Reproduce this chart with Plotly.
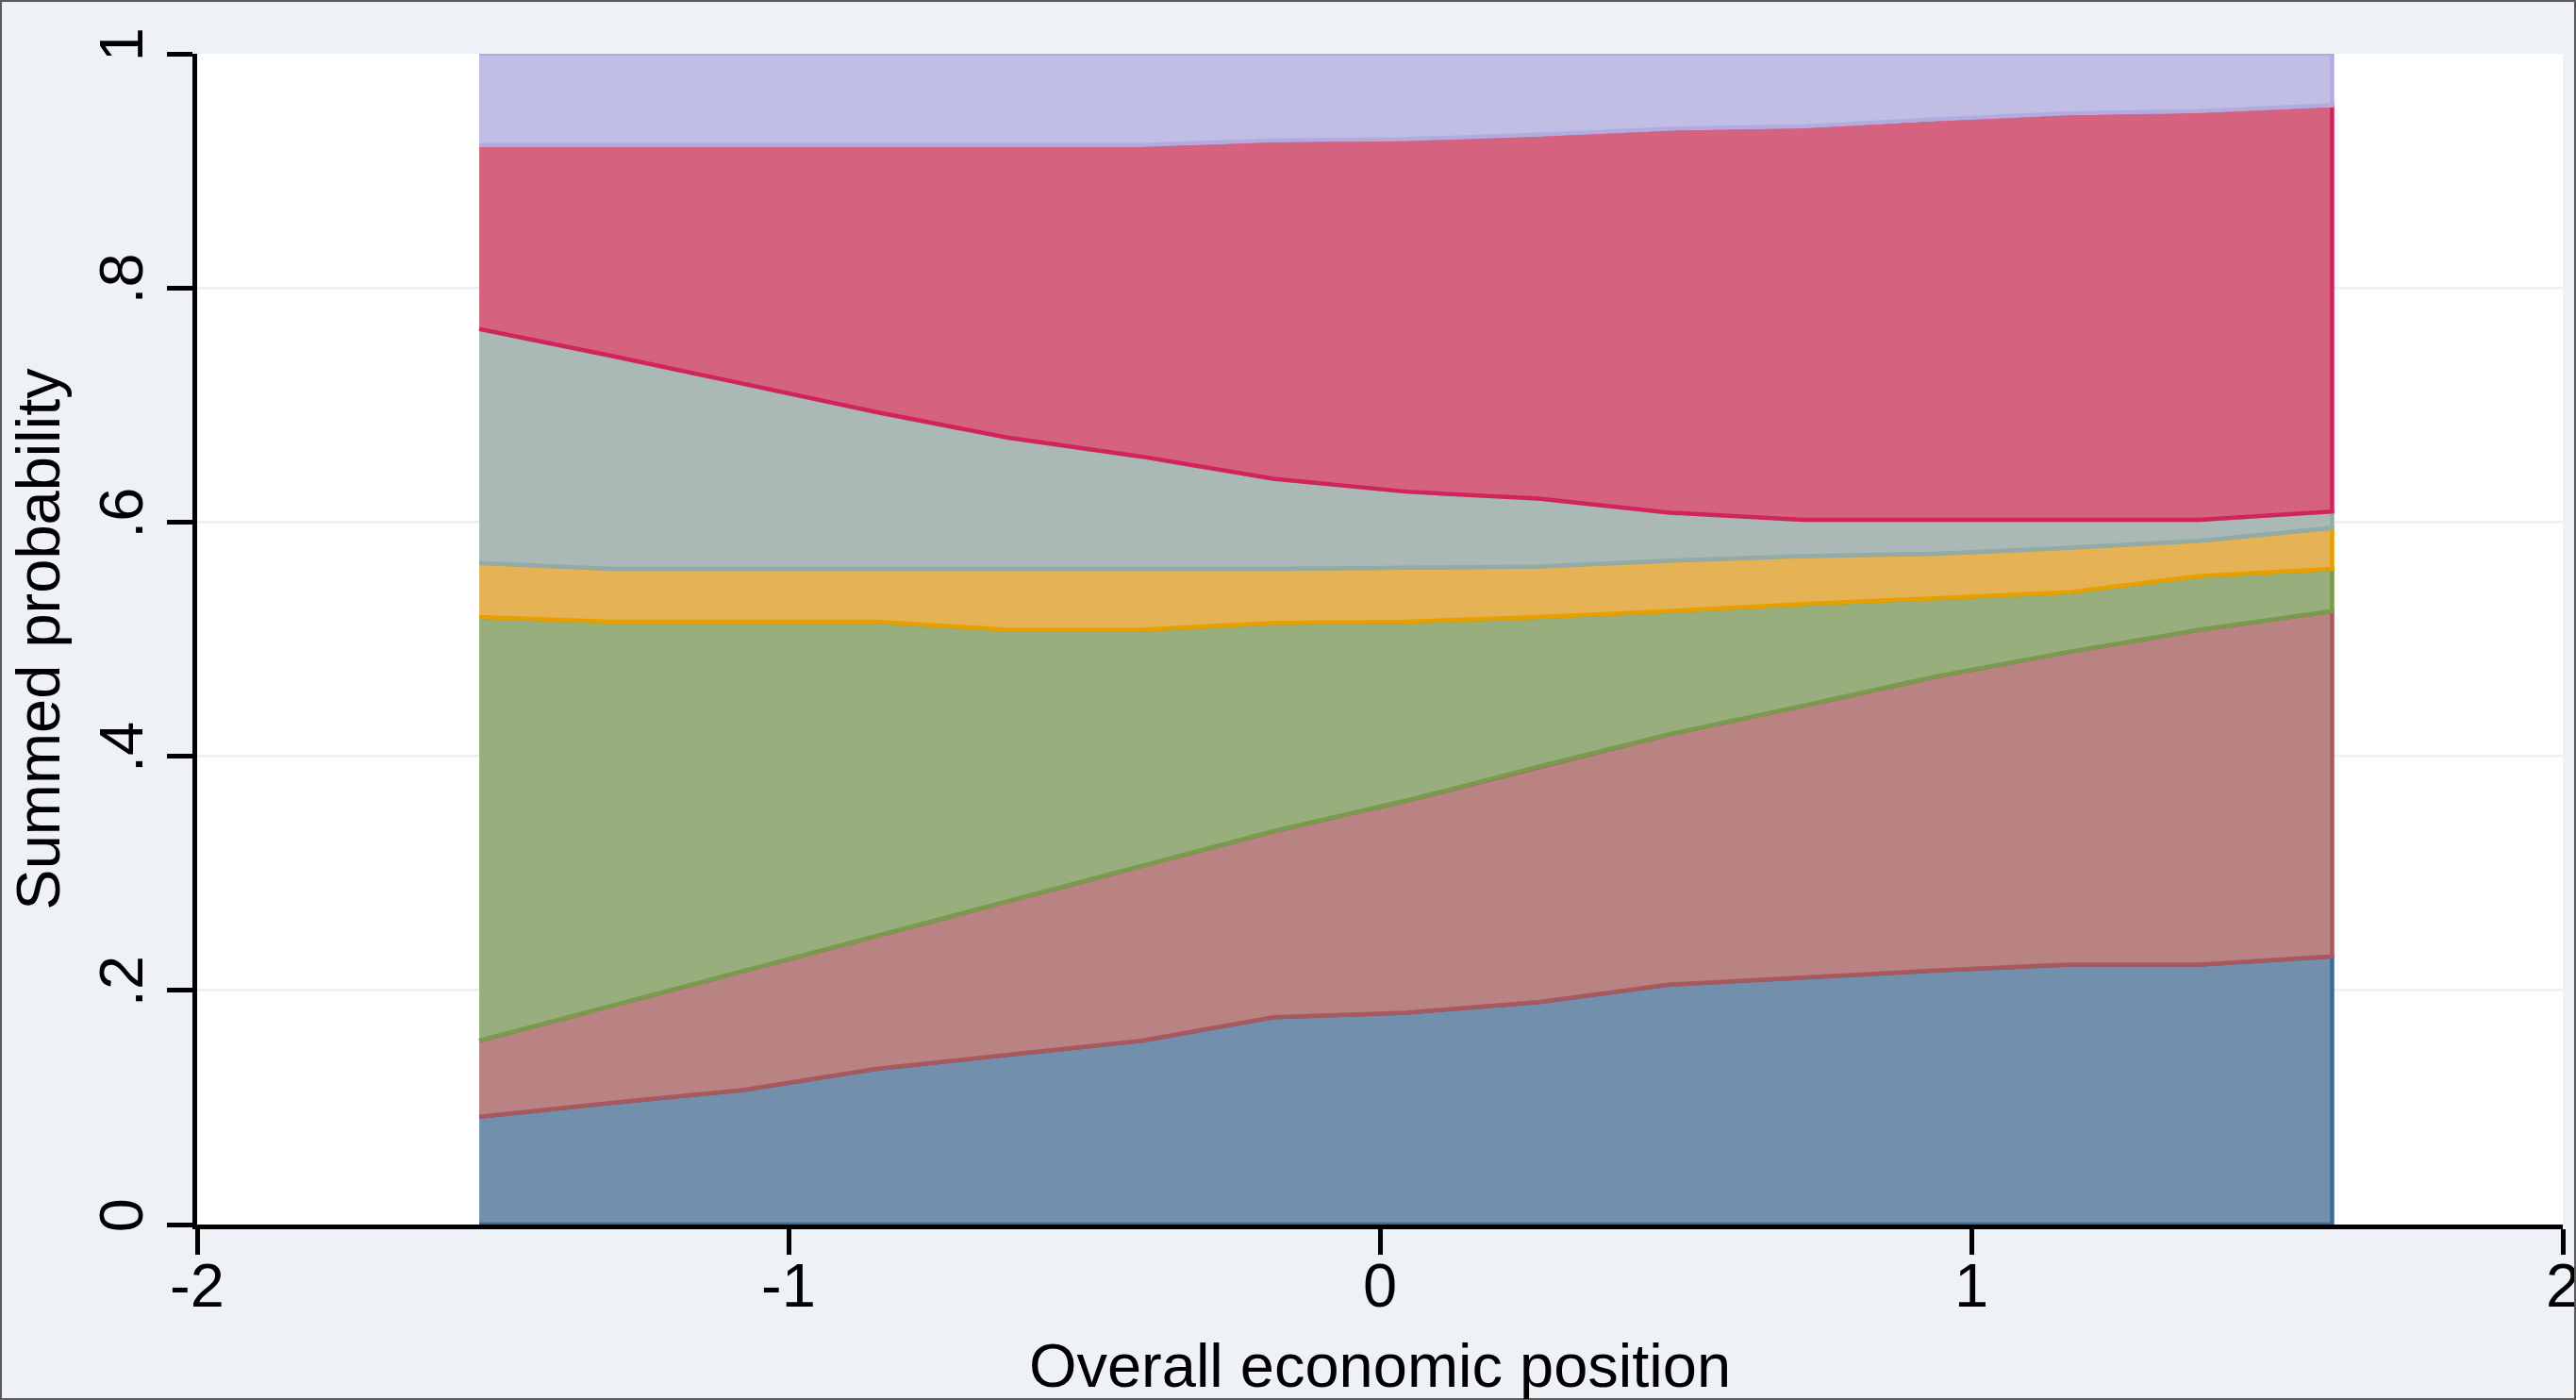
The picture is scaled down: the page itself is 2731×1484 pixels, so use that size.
import numpy as np
import plotly.graph_objects as go

# Overall economic position (x) at which the predicted probabilities were evaluated
econ_position = [-1.523, -1.299, -1.075, -0.852, -0.628, -0.404, -0.180, 0.044,
                 0.268, 0.491, 0.715, 0.939, 1.163, 1.386, 1.610]

# Predicted probability of each outcome category (stacked bottom -> top)
prob_cat1 = [0.092, 0.104, 0.115, 0.133, 0.145, 0.157, 0.177, 0.181, 0.190, 0.205, 0.211, 0.217, 0.222, 0.222, 0.229]
prob_cat2 = [0.065, 0.083, 0.102, 0.113, 0.131, 0.149, 0.159, 0.181, 0.201, 0.214, 0.232, 0.251, 0.267, 0.286, 0.295]
prob_cat3 = [0.362, 0.328, 0.298, 0.269, 0.232, 0.202, 0.178, 0.153, 0.128, 0.105, 0.087, 0.067, 0.051, 0.046, 0.036]
prob_cat4 = [0.046, 0.045, 0.045, 0.045, 0.052, 0.052, 0.046, 0.046, 0.043, 0.043, 0.041, 0.038, 0.038, 0.030, 0.035]
prob_cat5 = [0.200, 0.182, 0.158, 0.134, 0.112, 0.096, 0.077, 0.065, 0.058, 0.041, 0.031, 0.029, 0.024, 0.018, 0.014]
prob_cat6 = [0.157, 0.180, 0.204, 0.228, 0.250, 0.266, 0.289, 0.301, 0.311, 0.328, 0.336, 0.342, 0.347, 0.349, 0.347]
prob_cat7 = [0.078, 0.078, 0.078, 0.078, 0.078, 0.078, 0.074, 0.073, 0.069, 0.064, 0.062, 0.056, 0.051, 0.049, 0.044]

category_names = ["Category 1", "Category 2", "Category 3", "Category 4",
                  "Category 5", "Category 6", "Category 7"]

x_ticks = [-2, -1, 0, 1, 2]
x_tick_labels = ["-2", "-1", "0", "1", "2"]
y_ticks = [0, 0.2, 0.4, 0.6, 0.8, 1]
y_tick_labels = ["0", ".2", ".4", ".6", ".8", "1"]

fill_colors = ["#7290AC", "#B98283", "#98AE7C", "#E6B256", "#AAB9B5", "#D5637F", "#C0BEE5"]
line_colors = ["#3D6A92", "#A8585E", "#7A9A4E", "#E8A000", "#93ABA6", "#D0245A", "#B3AADD"]

probs = [prob_cat1, prob_cat2, prob_cat3, prob_cat4, prob_cat5, prob_cat6, prob_cat7]
cum = np.cumsum(np.array(probs), axis=0)
xs = list(econ_position)

fig = go.Figure()
lower = np.zeros(len(xs))
for k in range(len(probs)):
    upper = cum[k]
    fig.add_trace(go.Scatter(
        x=xs + xs[::-1],
        y=list(upper) + list(lower[::-1]),
        fill="toself",
        fillcolor=fill_colors[k],
        line=dict(color=line_colors[k], width=4.5),
        mode="lines",
        name=category_names[k],
        hoverinfo="skip",
        showlegend=False,
    ))
    lower = upper

FONT = "Liberation Sans, Arial, Helvetica, sans-serif"
BG = "#EEF1F6"

W, H = 2731, 1484
ML, MR, MT, MB = 209, 14, 57, 186
pw, ph = W - ML - MR, H - MT - MB

fig.update_layout(
    width=W, height=H,
    margin=dict(l=ML, r=MR, t=MT, b=MB, pad=0),
    paper_bgcolor=BG,
    plot_bgcolor="white",
    font=dict(family=FONT, size=65, color="black"),
    showlegend=False,
    xaxis=dict(
        range=[-2, 2],
        tickvals=x_ticks, ticktext=x_tick_labels,
        showline=True, linecolor="black", linewidth=5,
        ticks="outside", ticklen=27, tickwidth=5, tickcolor="black",
        ticklabelstandoff=-23, ticklabeloverflow="allow",
        showgrid=False, zeroline=False,
        tickfont=dict(size=65, family=FONT, color="black"),
        title=dict(text="Overall economic position", font=dict(size=65, family=FONT, color="black"), standoff=43),
        automargin=False,
    ),
    yaxis=dict(
        range=[0, 1],
        tickvals=y_ticks, ticktext=y_tick_labels,
        tickangle=-90,
        showline=True, linecolor="black", linewidth=5,
        ticks="outside", ticklen=27, tickwidth=5, tickcolor="black",
        showgrid=True, gridcolor=BG, gridwidth=3,
        zeroline=False,
        tickfont=dict(size=65, family=FONT, color="black"),
        title=dict(text="Summed probability", font=dict(size=65, family=FONT, color="black"), standoff=9),
        automargin=False,
    ),
    shapes=[dict(
        type="rect", xref="paper", yref="paper", layer="above",
        x0=(1 - ML) / pw, x1=(W - 1 - ML) / pw,
        y0=-(MB - 1) / ph, y1=(ph + MT - 1) / ph,
        line=dict(color="#5A5A5A", width=2), fillcolor="rgba(0,0,0,0)",
    )],
)

fig.write_html(
    "out.html",
    config={"displayModeBar": False},
    post_script="document.body.style.margin='0';document.body.style.overflow='hidden';",
)
